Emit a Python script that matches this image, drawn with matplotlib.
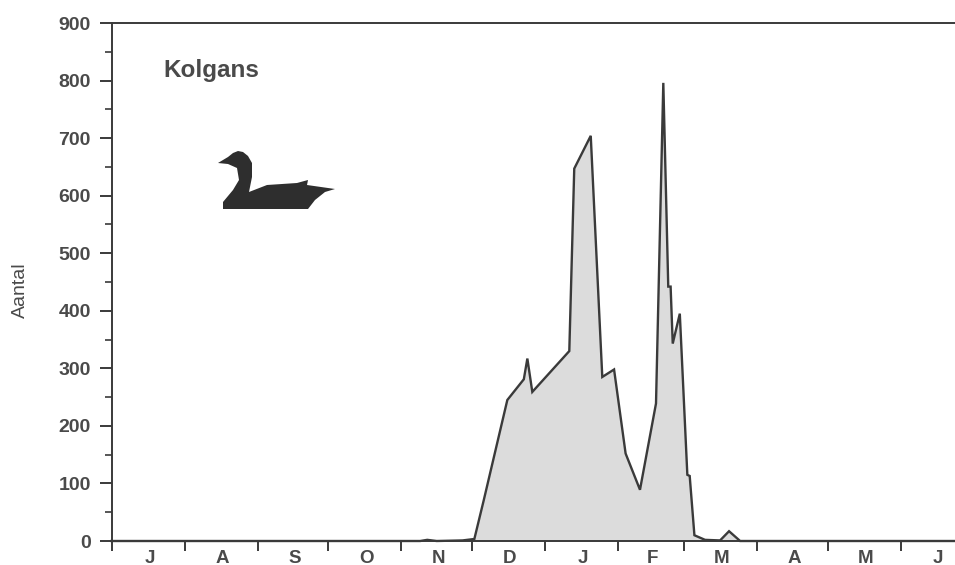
import matplotlib
matplotlib.use('Agg')
import matplotlib.pyplot as plt
import numpy as np
from matplotlib.patches import Polygon

plt.rcParams['font.family'] = ['Liberation Sans', 'DejaVu Sans']

# days since 1 July, counts
days = [0, 131, 134, 138, 149, 154, 158, 168, 175, 176.5, 178.6, 194.3, 196.4, 203.4, 208.3, 213.3,
        218.2, 224.3, 231.1, 234.2, 236.3, 237.3, 238.2, 241.2, 244.4, 245.4, 247.4, 251.9, 258.3,
        262.1, 266.8, 358]
counts = [0, 0, 2, 0, 1, 3.5, 71, 245, 281, 317, 259, 330, 647, 704, 285, 298,
          152, 89, 239, 796, 442, 442, 343, 395, 115, 113, 10, 2, 1,
          17, 0, 0]

month_starts = [0, 31, 62, 92, 123, 153, 184, 215, 243, 274, 304, 335, 365]
month_labels = ['J', 'A', 'S', 'O', 'N', 'D', 'J', 'F', 'M', 'A', 'M', 'J']
y_major = list(range(0, 901, 100))
y_minor = list(range(50, 900, 100))

# goose outline in image pixels
goose_x = [218, 228, 233, 238, 243, 248, 252, 252, 249, 267, 297, 308, 307, 335, 325, 315, 308,
           223, 223, 233, 239, 237, 228]
goose_y = [163, 157, 153, 151, 152, 156, 163, 177, 192, 185, 183, 180, 185, 189, 192, 200, 209,
           209, 202, 190, 180, 168, 164]

W, H = 955, 565
dark = '#3a3a3a'
text_col = '#4a4a4a'

fig = plt.figure(figsize=(W / 100, H / 100), dpi=100)
ax = fig.add_axes([111.5 / W, (H - 541) / H, (W - 111.5) / W, 518 / H])

ax.fill_between(days, counts, 0, color='#dcdcdc', lw=0)
ax.plot(days, counts, color=dark, lw=1.7, solid_joinstyle='miter', clip_on=False)

ax.set_xlim(0, 358)
ax.set_ylim(0, 900)

ax.spines['right'].set_visible(False)
for s in ['left', 'top', 'bottom']:
    ax.spines[s].set_color(dark)
    ax.spines[s].set_linewidth(1.4)

ax.set_yticks(y_major)
ax.set_yticks(y_minor, minor=True)
ax.tick_params(axis='y', which='major', length=9, width=1.4, color=dark, pad=6,
               labelsize=14, labelcolor=text_col)
ax.tick_params(axis='y', which='minor', length=5, width=1.2, color=dark)
for lab in ax.get_yticklabels():
    lab.set_fontweight('bold')

ax.set_xticks([m for m in month_starts if m < 358])
ax.set_xticklabels([])
ax.tick_params(axis='x', which='major', length=7, width=1.4, color=dark)
for i, lab in enumerate(month_labels):
    mid = (month_starts[i] + month_starts[i + 1]) / 2
    ax.annotate(lab, (mid, 0), xycoords='data', xytext=(1, -12.5), textcoords='offset points',
                ha='center', va='center', fontsize=13.5, fontweight='bold', color=text_col,
                annotation_clip=False)

ax.set_ylabel('Aantal', fontsize=14, color=text_col)
ax.yaxis.set_label_coords(-83 / (W - 111.5), 0.485)

fig.text(163 / W, 1 - 70 / H, 'Kolgans', fontsize=17.5, fontweight='bold', color=text_col,
         ha='left', va='center')

goose = np.column_stack([np.array(goose_x) / W, 1 - np.array(goose_y) / H])
fig.add_artist(Polygon(goose, closed=True, transform=fig.transFigure, fc='#2e2e2e', ec='none'))

fig.savefig('out.png', dpi=100)
